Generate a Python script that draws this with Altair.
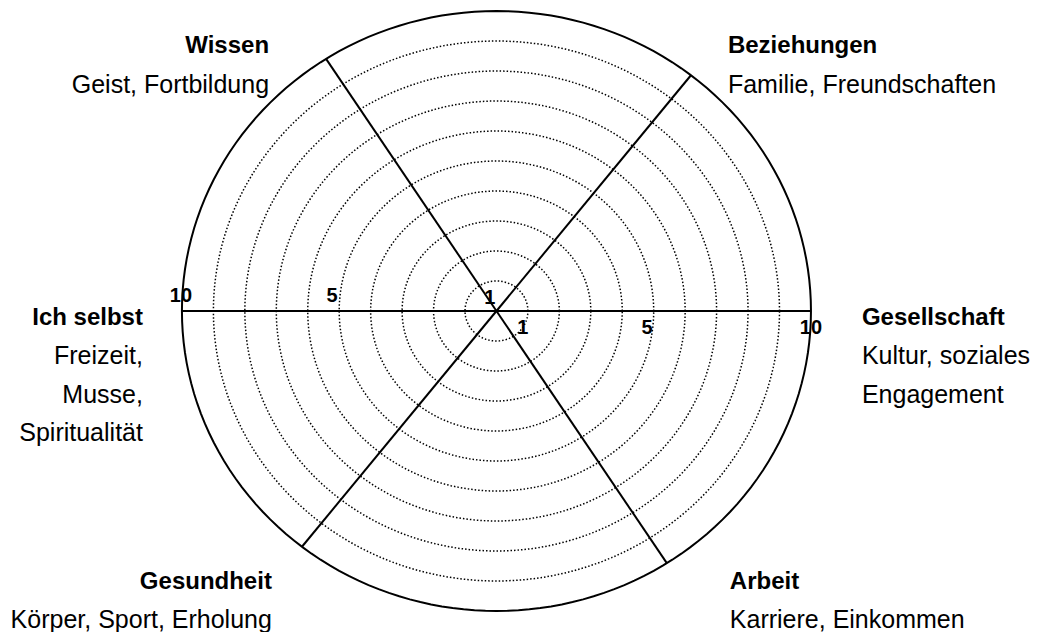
import altair as alt
import pandas as pd

# ---- data ----
ring_values = [1, 2, 3, 4, 5, 6, 7, 8, 9, 10]
spoke_angles = [0, 51.8, 122.8, 180, 231.8, 302.8]

categories = ["Wissen", "Beziehungen", "Ich selbst", "Gesellschaft", "Gesundheit", "Arbeit"]
subtitles = [
    ["Geist, Fortbildung"],
    ["Familie, Freundschaften"],
    ["Freizeit,", "Musse,", "Spiritualität"],
    ["Kultur, soziales", "Engagement"],
    ["Körper, Sport, Erholung"],
    ["Karriere, Einkommen"],
]
cat_x = [-7.23, 7.36, -11.24, 11.62, -7.14, 7.42]
cat_y = [8.83, 8.83, -0.23, -0.23, -9.03, -9.03]
cat_align = ["right", "left", "right", "left", "right", "left"]
line_step = 1.28

tick_text = ["10", "5", "1", "1", "5", "10"]
tick_x = [-10.03, -5.23, -0.21, 0.84, 4.79, 10.0]
tick_y = [0.5, 0.5, 0.45, -0.57, -0.57, -0.57]

# ---- tables ----
angle_steps = list(range(0, 361, 2))
rings_df = pd.DataFrame([(r, a) for r in ring_values for a in angle_steps], columns=["r", "a"])
spokes_df = pd.DataFrame([(s, rr) for s in spoke_angles for rr in (0, 10)], columns=["s", "rr"])

rows = []
for c, subs, x, y, al in zip(categories, subtitles, cat_x, cat_y, cat_align):
    rows.append(dict(text=c, x=x, y=y, bold=True, align=al))
    for i, s in enumerate(subs):
        rows.append(dict(text=s, x=x, y=y - (i + 1) * line_step, bold=False, align=al))
ann_df = pd.DataFrame(rows)
ticks_df = pd.DataFrame(dict(text=tick_text, x=tick_x, y=tick_y))

# ---- scales ----
xs = alt.Scale(domain=[-15.53, 17.25], nice=False, zero=False)
ys = alt.Scale(domain=[-10.7, 10.1], nice=False, zero=False)
X = lambda f: alt.X(f, type="quantitative", scale=xs, axis=None)
Y = lambda f: alt.Y(f, type="quantitative", scale=ys, axis=None)

ring_base = alt.Chart(rings_df).transform_calculate(
    px="datum.r * cos(datum.a * PI / 180)",
    py="datum.r * sin(datum.a * PI / 180)",
)
dotted = ring_base.transform_filter("datum.r < 10").mark_line(
    color="black", strokeWidth=1.5, strokeDash=[1.5, 2]
).encode(x=X("px"), y=Y("py"), detail="r:N", order="a:Q")
outer = ring_base.transform_filter("datum.r == 10").mark_line(
    color="black", strokeWidth=2
).encode(x=X("px"), y=Y("py"), detail="r:N", order="a:Q")

spokes = alt.Chart(spokes_df).transform_calculate(
    px="datum.rr * cos(datum.s * PI / 180)",
    py="datum.rr * sin(datum.s * PI / 180)",
).mark_line(color="black", strokeWidth=2).encode(
    x=X("px"), y=Y("py"), detail="s:N", order="rr:Q"
)

font = "Liberation Sans"
text_layers = []
for al in ["left", "right"]:
    for b in [True, False]:
        text_layers.append(
            alt.Chart(ann_df).transform_filter(
                f"datum.align == '{al}' && datum.bold == {str(b).lower()}"
            ).mark_text(
                align=al, baseline="middle", font=font,
                fontSize=24 if b else 25, fontWeight="bold" if b else "normal",
                color="black",
            ).encode(x=X("x"), y=Y("y"), text="text:N")
        )

ticks = alt.Chart(ticks_df).mark_text(
    align="center", baseline="middle", font=font, fontSize=20,
    fontWeight="bold", color="black",
).encode(x=X("x"), y=Y("y"), text="text:N")

chart = alt.layer(dotted, outer, spokes, ticks, *text_layers).properties(
    width=1031, height=624,
    autosize=alt.AutoSizeParams(type="none"),
    padding=0,
).configure_view(stroke=None)

chart.save("out.html", embed_options={"renderer": "svg", "actions": False})
